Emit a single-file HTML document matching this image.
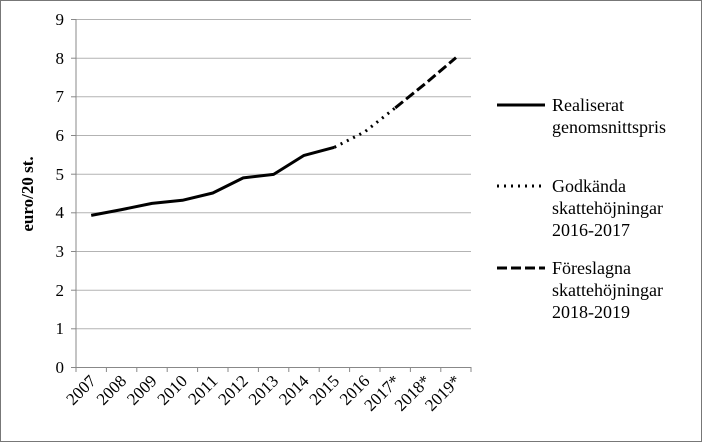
<!DOCTYPE html>
<html><head><meta charset="utf-8"><style>
body{margin:0;background:#fff;}
svg{display:block;font-family:"Liberation Serif",serif;}
</style></head><body>
<svg width="702" height="443" viewBox="0 0 702 443">
<rect x="0.5" y="0.5" width="701" height="441" fill="#fff" stroke="#777" stroke-width="1"/>
<g stroke="#b3b3b3" stroke-width="1">
<line x1="76" y1="19.5" x2="471" y2="19.5"/>
<line x1="76" y1="58.2" x2="471" y2="58.2"/>
<line x1="76" y1="96.8" x2="471" y2="96.8"/>
<line x1="76" y1="135.5" x2="471" y2="135.5"/>
<line x1="76" y1="174.2" x2="471" y2="174.2"/>
<line x1="76" y1="212.8" x2="471" y2="212.8"/>
<line x1="76" y1="251.5" x2="471" y2="251.5"/>
<line x1="76" y1="290.2" x2="471" y2="290.2"/>
<line x1="76" y1="328.8" x2="471" y2="328.8"/>
</g>
<g stroke="#888" stroke-width="1">
<line x1="76" y1="19" x2="76" y2="372"/>
<line x1="71" y1="367.5" x2="471" y2="367.5"/>
<line x1="71" y1="19.5" x2="76" y2="19.5"/><line x1="71" y1="58.2" x2="76" y2="58.2"/><line x1="71" y1="96.8" x2="76" y2="96.8"/><line x1="71" y1="135.5" x2="76" y2="135.5"/><line x1="71" y1="174.2" x2="76" y2="174.2"/><line x1="71" y1="212.8" x2="76" y2="212.8"/><line x1="71" y1="251.5" x2="76" y2="251.5"/><line x1="71" y1="290.2" x2="76" y2="290.2"/><line x1="71" y1="328.8" x2="76" y2="328.8"/>
<line x1="106.4" y1="367" x2="106.4" y2="372"/><line x1="136.8" y1="367" x2="136.8" y2="372"/><line x1="167.2" y1="367" x2="167.2" y2="372"/><line x1="197.6" y1="367" x2="197.6" y2="372"/><line x1="228" y1="367" x2="228" y2="372"/><line x1="258.4" y1="367" x2="258.4" y2="372"/><line x1="288.8" y1="367" x2="288.8" y2="372"/><line x1="319.2" y1="367" x2="319.2" y2="372"/><line x1="349.6" y1="367" x2="349.6" y2="372"/><line x1="380" y1="367" x2="380" y2="372"/><line x1="410.4" y1="367" x2="410.4" y2="372"/><line x1="440.8" y1="367" x2="440.8" y2="372"/><line x1="471" y1="367" x2="471" y2="372"/>
</g>
<g font-size="17" text-anchor="end" fill="#000">
<text x="64" y="25">9</text><text x="64" y="64">8</text><text x="64" y="102">7</text><text x="64" y="141">6</text><text x="64" y="180">5</text><text x="64" y="218">4</text><text x="64" y="257">3</text><text x="64" y="296">2</text><text x="64" y="334">1</text><text x="64" y="373">0</text>
</g>
<g font-size="17" text-anchor="end" fill="#000">
<text transform="translate(97,382) rotate(-45)">2007</text>
<text transform="translate(127.4,382) rotate(-45)">2008</text>
<text transform="translate(157.8,382) rotate(-45)">2009</text>
<text transform="translate(188.2,382) rotate(-45)">2010</text>
<text transform="translate(218.6,382) rotate(-45)">2011</text>
<text transform="translate(249,382) rotate(-45)">2012</text>
<text transform="translate(279.4,382) rotate(-45)">2013</text>
<text transform="translate(309.8,382) rotate(-45)">2014</text>
<text transform="translate(340.2,382) rotate(-45)">2015</text>
<text transform="translate(370.6,382) rotate(-45)">2016</text>
<text transform="translate(401,382) rotate(-45)">2017*</text>
<text transform="translate(431.4,382) rotate(-45)">2018*</text>
<text transform="translate(461.8,382) rotate(-45)">2019*</text>
</g>
<text transform="translate(33,194) rotate(-90)" font-size="17" font-weight="bold" text-anchor="middle">euro/20 st.</text>
<polyline fill="none" stroke="#000" stroke-width="3" stroke-linejoin="round" points="91.2,215.4 121.6,209.6 152,203.4 182.4,200.3 212.8,193 243.2,177.9 273.6,174.4 304,155.4 334.4,147.3"/>
<polyline fill="none" stroke="#000" stroke-width="3" stroke-dasharray="2 5" points="334.4,147.3 364.8,131.8 395.2,107.9"/>
<polyline fill="none" stroke="#000" stroke-width="3" stroke-dasharray="10 4" points="395.2,107.9 425.6,83.4 456,57.6"/>
<line x1="497" y1="105" x2="545" y2="105" stroke="#000" stroke-width="3"/>
<line x1="497" y1="186" x2="545" y2="186" stroke="#000" stroke-width="3" stroke-dasharray="2 5"/>
<line x1="497" y1="268" x2="545" y2="268" stroke="#000" stroke-width="3" stroke-dasharray="10 4"/>
<g font-size="18" fill="#000">
<text x="552" y="111">Realiserat</text><text x="552" y="133">genomsnittspris</text>
<text x="552" y="192">Godkända</text><text x="552" y="214">skattehöjningar</text><text x="552" y="236">2016-2017</text>
<text x="552" y="274">Föreslagna</text><text x="552" y="296">skattehöjningar</text><text x="552" y="318">2018-2019</text>
</g>
</svg>
</body></html>
